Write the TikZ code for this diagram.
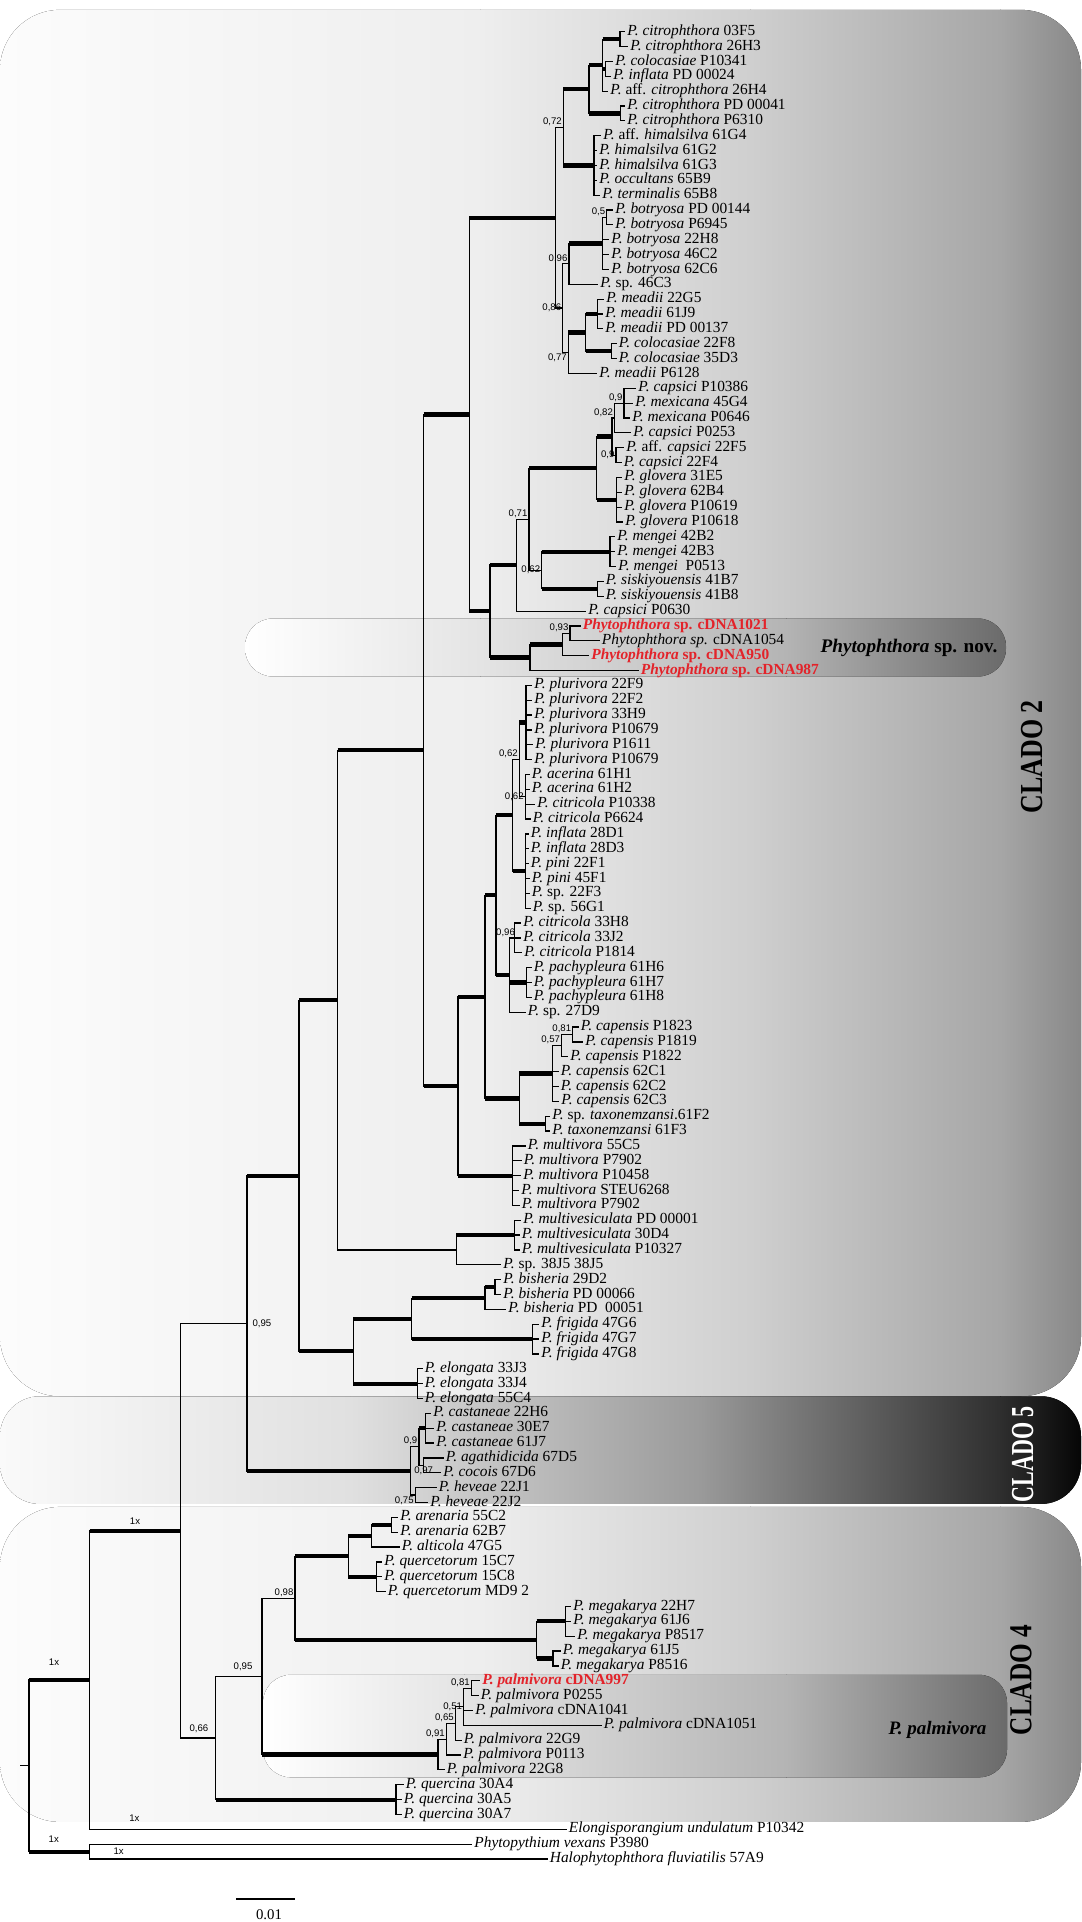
\documentclass[tikz,border=0pt]{standalone}
\usepackage{fontspec}
\setmainfont{Liberation Serif}
\newfontfamily\supfont{Liberation Sans}
\definecolor{cdnared}{HTML}{E3232A}
\definecolor{bgA}{HTML}{FCFCFC}
\definecolor{bgB}{HTML}{EEEEEE}
\definecolor{bgC}{HTML}{CFCFCF}
\definecolor{bgD}{HTML}{A6A6A6}
\definecolor{bgE}{HTML}{888888}
\definecolor{dkA}{HTML}{FAFAFA}
\definecolor{dkB}{HTML}{E0E0E0}
\definecolor{dkC}{HTML}{9A9A9A}
\definecolor{dkD}{HTML}{2E2E2E}
\definecolor{dkE}{HTML}{050505}
\definecolor{bxA}{HTML}{FFFFFF}
\definecolor{bxB}{HTML}{E4E4E4}
\definecolor{bxC}{HTML}{B4B4B4}
\definecolor{bxD}{HTML}{6A6A6A}
\tikzset{
    leaf/.style={anchor=west, inner xsep=1pt, inner ysep=0pt, font=\fontsize{7.7}{8}\selectfont, text height=5.2pt, text depth=1.6pt},
    hit/.style={leaf, text=cdnared, font=\fontsize{7.7}{8}\selectfont\bfseries},
    vbar/.style={line width=0.6pt},
    fat/.style={line width=2.1pt},
    supp/.style={font=\fontsize{4.8}{5}\supfont, inner sep=0.6pt, anchor=south east},
    clado/.style={rotate=90, font=\fontsize{16}{16}\selectfont\bfseries},
    boxlabel/.style={font=\fontsize{9.6}{10}\selectfont\bfseries}
}
\newcommand\thinbr[2]{\draw[vbar] (#1) |- (#2);}
\newcommand\thickbr[2]{\draw[vbar] (#1) |- (#2); \draw[fat] (#1 |- #2) -- (#2);}
\newcommand\lf[3]{\node[leaf] (l#1) at (#2,#1) {#3};}
\newcommand\fan[3]{\foreach \i in {#2,...,#3} {\thinbr{#1}{l\i}}}

\begin{document}
\begin{tikzpicture}[x=0.5pt, y=-7.428pt]
    \useasboundingbox (0,-1.1336) rectangle (1081,128.24);

    \begin{scope}
        \clip[rounded corners=30pt] (0,-0.47) rectangle (1081,92.85);
        \fill[left color=bgA, right color=bgB] (-1,-2) rectangle (481,94);
        \fill[left color=bgB, right color=bgC] (480,-2) rectangle (751,94);
        \fill[left color=bgC, right color=bgD] (750,-2) rectangle (1001,94);
        \fill[left color=bgD, right color=bgE] (1000,-2) rectangle (1082,94);
    \end{scope}
    \begin{scope}
        \clip[rounded corners=20pt] (0,92.85) rectangle (1081,100.1);
        \fill[left color=dkA, right color=dkB] (-1,92) rectangle (351,101);
        \fill[left color=dkB, right color=dkC] (350,92) rectangle (701,101);
        \fill[left color=dkC, right color=dkD] (700,92) rectangle (1001,101);
        \fill[left color=dkD, right color=dkE] (1000,92) rectangle (1082,101);
    \end{scope}
    \begin{scope}
        \clip[rounded corners=30pt] (0,100.3) rectangle (1081,121.5);
        \fill[left color=bgA, right color=bgB] (-1,100) rectangle (481,122);
        \fill[left color=bgB, right color=bgC] (480,100) rectangle (751,122);
        \fill[left color=bgC, right color=bgD] (750,100) rectangle (1001,122);
        \fill[left color=bgD, right color=bgE] (1000,100) rectangle (1082,122);
    \end{scope}
    \begin{scope}
        \clip[rounded corners=14pt] (245,40.5) rectangle (1006,44.4);
        \fill[left color=bxA, right color=bxB] (244,40) rectangle (481,45);
        \fill[left color=bxB, right color=bxC] (480,40) rectangle (787,45);
        \fill[left color=bxC, right color=bxD] (786,40) rectangle (1007,45);
    \end{scope}
    \begin{scope}
        \clip[rounded corners=14pt] (263,111.6) rectangle (1007,118.5);
        \fill[left color=bxA, right color=bxB] (262,111) rectangle (465,119);
        \fill[left color=bxB, right color=bxC] (464,111) rectangle (787,119);
        \fill[left color=bxC, right color=bxD] (786,111) rectangle (1008,119);
    \end{scope}

    \node[boxlabel] (spnov) at (909,42.5) {\textit{Phytophthora} sp. nov.};
    \node[boxlabel, font=\fontsize{9.5}{10}\selectfont\bfseries\itshape] (palmbox) at (937.5,115.3) {P. palmivora};
    \node[clado] (clado2) at (1032,49.8) {\scalebox{0.81}[1]{CLADO 2}};
    \node[clado, text=white] (clado5) at (1022.7,96.75) {\scalebox{0.69}[1]{CLADO 5}};
    \node[clado] (clado4) at (1021,111.95) {\scalebox{0.79}[1]{CLADO 4}};

    \lf{1}{625}{\textit{P. citrophthora} 03F5}
    \lf{2}{628}{\textit{P. citrophthora} 26H3}
    \lf{3}{613}{\textit{P. colocasiae} P10341}
    \lf{4}{611}{\textit{P. inflata} PD 00024}
    \lf{5}{608}{\textit{P.} aff. \textit{citrophthora} 26H4}
    \lf{6}{625}{\textit{P. citrophthora} PD 00041}
    \lf{7}{625}{\textit{P. citrophthora} P6310}
    \lf{8}{601}{\textit{P.} aff. \textit{himalsilva} 61G4}
    \lf{9}{597}{\textit{P. himalsilva} 61G2}
    \lf{10}{597}{\textit{P. himalsilva} 61G3}
    \lf{11}{597}{\textit{P. occultans} 65B9}
    \lf{12}{600}{\textit{P. terminalis} 65B8}
    \lf{13}{613}{\textit{P. botryosa} PD 00144}
    \lf{14}{613}{\textit{P. botryosa} P6945}
    \lf{15}{609}{\textit{P. botryosa} 22H8}
    \lf{16}{609}{\textit{P. botryosa} 46C2}
    \lf{17}{609}{\textit{P. botryosa} 62C6}
    \lf{18}{598}{\textit{P.} sp. 46C3}
    \lf{19}{604}{\textit{P. meadii} 22G5}
    \lf{20}{603}{\textit{P. meadii} 61J9}
    \lf{21}{603}{\textit{P. meadii} PD 00137}
    \lf{22}{616.5}{\textit{P. colocasiae} 22F8}
    \lf{23}{616.5}{\textit{P. colocasiae} 35D3}
    \lf{24}{597}{\textit{P. meadii} P6128}
    \lf{25}{636}{\textit{P. capsici} P10386}
    \lf{26}{633}{\textit{P. mexicana} 45G4}
    \lf{27}{630}{\textit{P. mexicana} P0646}
    \lf{28}{631}{\textit{P. capsici} P0253}
    \lf{29}{624}{\textit{P.} aff. \textit{capsici} 22F5}
    \lf{30}{621.5}{\textit{P. capsici} 22F4}
    \lf{31}{622}{\textit{P. glovera} 31E5}
    \lf{32}{622}{\textit{P. glovera} 62B4}
    \lf{33}{622}{\textit{P. glovera} P10619}
    \lf{34}{623}{\textit{P. glovera} P10618}
    \lf{35}{615}{\textit{P. mengei} 42B2}
    \lf{36}{615}{\textit{P. mengei} 42B3}
    \lf{37}{616}{\textit{P. mengei}\ \ P0513}
    \lf{38}{603.5}{\textit{P. siskiyouensis} 41B7}
    \lf{39}{603.5}{\textit{P. siskiyouensis} 41B8}
    \lf{40}{586}{\textit{P. capsici} P0630}
    \node[hit] (l41) at (580.5,41) {\textit{Phytophthora} sp. cDNA1021};
    \lf{42}{599.5}{\textit{Phytophthora sp.} cDNA1054}
    \node[hit] (l43) at (589,43) {\textit{Phytophthora} sp. cDNA950};
    \node[hit] (l44) at (638.5,44) {\textit{Phytophthora} sp. cDNA987};
    \lf{45}{532}{\textit{P. plurivora} 22F9}
    \lf{46}{532}{\textit{P. plurivora} 22F2}
    \lf{47}{532}{\textit{P. plurivora} 33H9}
    \lf{48}{532}{\textit{P. plurivora} P10679}
    \lf{49}{533}{\textit{P. plurivora} P1611}
    \lf{50}{532}{\textit{P. plurivora} P10679}
    \lf{51}{529.5}{\textit{P. acerina} 61H1}
    \lf{52}{529.5}{\textit{P. acerina} 61H2}
    \lf{53}{535}{\textit{P. citricola} P10338}
    \lf{54}{530.5}{\textit{P. citricola} P6624}
    \lf{55}{528.5}{\textit{P. inflata} 28D1}
    \lf{56}{528.5}{\textit{P. inflata} 28D3}
    \lf{57}{528.5}{\textit{P. pini} 22F1}
    \lf{58}{529.5}{\textit{P. pini} 45F1}
    \lf{59}{529.5}{\textit{P.} sp. 22F3}
    \lf{60}{530.5}{\textit{P.} sp. 56G1}
    \lf{61}{521}{\textit{P. citricola} 33H8}
    \lf{62}{521}{\textit{P. citricola} 33J2}
    \lf{63}{522}{\textit{P. citricola} P1814}
    \lf{64}{531.5}{\textit{P. pachypleura} 61H6}
    \lf{65}{531.5}{\textit{P. pachypleura} 61H7}
    \lf{66}{531.5}{\textit{P. pachypleura} 61H8}
    \lf{67}{525.5}{\textit{P.} sp. 27D9}
    \lf{68}{578.5}{\textit{P. capensis} P1823}
    \lf{69}{583}{\textit{P. capensis} P1819}
    \lf{70}{568}{\textit{P. capensis} P1822}
    \lf{71}{558.5}{\textit{P. capensis} 62C1}
    \lf{72}{558.5}{\textit{P. capensis} 62C2}
    \lf{73}{559}{\textit{P. capensis} 62C3}
    \lf{74}{550}{\textit{P.} sp. \textit{taxonemzansi}.61F2}
    \lf{75}{550}{\textit{P. taxonemzansi} 61F3}
    \lf{76}{525.5}{\textit{P. multivora} 55C5}
    \lf{77}{521.5}{\textit{P. multivora} P7902}
    \lf{78}{521}{\textit{P. multivora} P10458}
    \lf{79}{519}{\textit{P. multivora} STEU6268}
    \lf{80}{519.5}{\textit{P. multivora} P7902}
    \lf{81}{521}{\textit{P. multivesiculata} PD 00001}
    \lf{82}{519.5}{\textit{P. multivesiculata} 30D4}
    \lf{83}{519.5}{\textit{P. multivesiculata} P10327}
    \lf{84}{501}{\textit{P.} sp. 38J5 38J5}
    \lf{85}{501}{\textit{P. bisheria} 29D2}
    \lf{86}{501}{\textit{P. bisheria} PD 00066}
    \lf{87}{506}{\textit{P. bisheria} PD\ \ 00051}
    \lf{88}{539}{\textit{P. frigida} 47G6}
    \lf{89}{539}{\textit{P. frigida} 47G7}
    \lf{90}{539}{\textit{P. frigida} 47G8}
    \lf{91}{422.5}{\textit{P. elongata} 33J3}
    \lf{92}{422.5}{\textit{P. elongata} 33J4}
    \lf{93}{422.5}{\textit{P. elongata} 55C4}
    \lf{94}{431}{\textit{P. castaneae} 22H6}
    \lf{95}{434}{\textit{P. castaneae} 30E7}
    \lf{96}{434}{\textit{P. castaneae} 61J7}
    \lf{97}{443.5}{\textit{P. agathidicida} 67D5}
    \lf{98}{441}{\textit{P. cocois} 67D6}
    \lf{99}{436.5}{\textit{P. heveae} 22J1}
    \lf{100}{428}{\textit{P. heveae} 22J2}
    \lf{101}{398}{\textit{P. arenaria} 55C2}
    \lf{102}{398}{\textit{P. arenaria} 62B7}
    \lf{103}{399.5}{\textit{P. alticola} 47G5}
    \lf{104}{382}{\textit{P. quercetorum} 15C7}
    \lf{105}{382}{\textit{P. quercetorum} 15C8}
    \lf{106}{385.5}{\textit{P. quercetorum} MD9 2}
    \lf{107}{571}{\textit{P. megakarya} 22H7}
    \lf{108}{571}{\textit{P. megakarya} 61J6}
    \lf{109}{575}{\textit{P. megakarya} P8517}
    \lf{110}{560.5}{\textit{P. megakarya} 61J5}
    \lf{111}{558.5}{\textit{P. megakarya} P8516}
    \node[hit] (l112) at (480,112) {\textit{P. palmivora} cDNA997};
    \lf{113}{478.5}{\textit{P. palmivora} P0255}
    \lf{114}{473}{\textit{P. palmivora} cDNA1041}
    \lf{115}{601.5}{\textit{P. palmivora} cDNA1051}
    \lf{116}{461.5}{\textit{P. palmivora} 22G9}
    \lf{117}{461}{\textit{P. palmivora} P0113}
    \lf{118}{444.5}{\textit{P. palmivora} 22G8}
    \lf{119}{403.5}{\textit{P. quercina} 30A4}
    \lf{120}{401.5}{\textit{P. quercina} 30A5}
    \lf{121}{401.5}{\textit{P. quercina} 30A7}
    \lf{122}{566.5}{\textit{Elongisporangium undulatum} P10342}
    \lf{123}{472}{\textit{Phytopythium vexans} P3980}
    \lf{124}{547.5}{\textit{Halophytophthora fluviatilis} 57A9}

    \coordinate (root) at (29,117.72);
    \coordinate (rt) at (20,117.72);
    \coordinate (A) at (89.6,111.95);
    \coordinate (OG) at (89.6,123.5);
    \coordinate (B) at (180.6,101.9);
    \coordinate (C) at (247,87.94);
    \coordinate (D) at (215.8,115.85);
    \coordinate (E) at (299,78.0);
    \coordinate (F) at (337.5,66.19);
    \coordinate (G) at (353.3,89.81);
    \coordinate (H) at (423.5,49.37);
    \coordinate (J) at (469.3,26.77);
    \coordinate (K) at (555.6,13.52);
    \coordinate (g) at (563.4,7.44);
    \coordinate (d) at (589,4.875);
    \coordinate (b) at (602.5,3.25);
    \coordinate (a) at (620,1.5);
    \coordinate (c) at (605.5,3.5);
    \coordinate (e) at (620.8,6.5);
    \coordinate (f) at (594,10);
    \coordinate (h) at (562.7,19.6);
    \coordinate (i96) at (569,16.625);
    \coordinate (bt) at (602.7,15.25);
    \coordinate (bt5) at (606.7,13.5);
    \coordinate (j77) at (568.3,22.6);
    \coordinate (k) at (585.7,21.25);
    \coordinate (md) at (597.3,20);
    \coordinate (cl) at (611.5,22.5);
    \coordinate (L) at (490,40.01);
    \coordinate (M) at (516.7,36.9);
    \coordinate (N) at (529,33.81);
    \coordinate (O) at (596.7,30.375);
    \coordinate (r) at (612,28.25);
    \coordinate (n82) at (614.5,27);
    \coordinate (n09) at (624,26);
    \coordinate (n09b) at (616,29.5);
    \coordinate (gl) at (616.7,32.5);
    \coordinate (s62) at (541.7,37.25);
    \coordinate (mg) at (610,36);
    \coordinate (sk) at (597.3,38.5);
    \coordinate (u) at (530,43.125);
    \coordinate (v) at (562.7,42.25);
    \coordinate (w) at (570,41.5);
    \coordinate (X) at (458,71.98);
    \coordinate (Y) at (485,65.97);
    \coordinate (Z) at (496,59.125);
    \coordinate (Z1) at (512.7,53.75);
    \coordinate (p62) at (519.3,50);
    \coordinate (pl) at (526,47.5);
    \coordinate (ac) at (525.2,52.5);
    \coordinate (ip) at (525.2,57.5);
    \coordinate (Z2) at (509.4,64.5);
    \coordinate (n96) at (514.5,62);
    \coordinate (pc) at (526.5,65);
    \coordinate (CT) at (519.3,72.81);
    \coordinate (cp) at (552.5,71.125);
    \coordinate (c57) at (561.6,69.25);
    \coordinate (c81) at (572.7,68.5);
    \coordinate (tx) at (545.3,74.5);
    \coordinate (mvr) at (512.7,78);
    \coordinate (mv2) at (456.3,83);
    \coordinate (mv) at (514.3,82);
    \coordinate (BF) at (411.7,87.625);
    \coordinate (bn) at (485,86.25);
    \coordinate (bn2) at (495,85.5);
    \coordinate (fr) at (532.5,89);
    \coordinate (el) at (417.5,92);
    \coordinate (c5) at (410.5,97.875);
    \coordinate (c9) at (418.9,96.25);
    \coordinate (cs) at (425.4,95);
    \coordinate (c97) at (423.6,97.5);
    \coordinate (hv) at (415.2,99.5);
    \coordinate (n95) at (262,111.7);
    \coordinate (n98) at (295,106.44);
    \coordinate (AQ) at (348.3,103.625);
    \coordinate (ar) at (371.7,102.25);
    \coordinate (ar2) at (391.7,101.5);
    \coordinate (qc) at (376.7,105);
    \coordinate (mk) at (536.6,109.25);
    \coordinate (mk1) at (565.4,108);
    \coordinate (mk2) at (552.9,110.5);
    \coordinate (pm) at (438,116.97);
    \coordinate (p91) at (446.4,115.94);
    \coordinate (p65) at (455.4,114.875);
    \coordinate (p51) at (463.6,113.75);
    \coordinate (p81) at (471.4,112.5);
    \coordinate (qn) at (396,120);

    \draw[vbar] (rt) -- (root);
    \thickbr{root}{A} \thickbr{root}{OG}
    \thinbr{A}{l122} \thickbr{A}{B}
    \thinbr{OG}{l123} \thinbr{OG}{l124}
    \thinbr{B}{C} \thinbr{B}{D}
    \thickbr{C}{E} \thickbr{C}{c5}
    \thickbr{E}{F} \thickbr{E}{G}
    \thickbr{F}{H} \thinbr{F}{mv2}
    \thickbr{H}{J} \thickbr{H}{X}
    \thickbr{J}{K} \thickbr{J}{L}
    \thinbr{K}{g} \thinbr{K}{h}
    \thickbr{g}{d} \thickbr{g}{f}
    \thickbr{d}{b} \thickbr{d}{e}
    \thickbr{b}{a} \thickbr{b}{c} \thinbr{b}{l5}
    \fan{a}{1}{2} \fan{c}{3}{4} \fan{e}{6}{7} \fan{f}{8}{12}
    \thinbr{h}{i96} \thinbr{h}{j77}
    \thickbr{i96}{bt} \thinbr{i96}{l18}
    \thinbr{bt}{bt5} \fan{bt5}{13}{14} \fan{bt}{15}{17}
    \thickbr{j77}{k} \thinbr{j77}{l24}
    \thickbr{k}{md} \thickbr{k}{cl}
    \fan{md}{19}{21} \fan{cl}{22}{23}
    \thickbr{L}{M} \thickbr{L}{u}
    \thinbr{M}{N} \thinbr{M}{l40}
    \thickbr{N}{O} \thinbr{N}{s62}
    \thickbr{O}{r} \thickbr{O}{gl}
    \thinbr{r}{n82} \thinbr{r}{n09b}
    \thinbr{n82}{n09} \thinbr{n82}{l28}
    \fan{n09}{25}{27} \fan{n09b}{29}{30} \fan{gl}{31}{34}
    \thickbr{s62}{mg} \thickbr{s62}{sk}
    \fan{mg}{35}{37} \fan{sk}{38}{39}
    \thickbr{u}{v} \thinbr{u}{l44}
    \thinbr{v}{w} \thinbr{v}{l43}
    \fan{w}{41}{42}
    \thickbr{X}{Y} \thickbr{X}{mvr}
    \fan{mvr}{76}{80}
    \thickbr{Y}{Z} \thickbr{Y}{CT}
    \thickbr{Z}{Z1} \thickbr{Z}{Z2}
    \thinbr{Z1}{p62} \thickbr{Z1}{ip}
    \thickbr{p62}{pl} \thinbr{p62}{ac}
    \fan{pl}{45}{50} \fan{ac}{51}{54} \fan{ip}{55}{60}
    \thinbr{Z2}{n96} \thickbr{Z2}{pc} \thinbr{Z2}{l67}
    \fan{n96}{61}{63} \fan{pc}{64}{66}
    \thickbr{CT}{cp} \thickbr{CT}{tx}
    \thinbr{cp}{c57} \fan{cp}{71}{73}
    \thinbr{c57}{c81} \thinbr{c57}{l70}
    \fan{c81}{68}{69} \fan{tx}{74}{75}
    \thickbr{mv2}{mv} \thinbr{mv2}{l84}
    \fan{mv}{81}{83}
    \thickbr{G}{BF} \thickbr{G}{el}
    \thickbr{BF}{bn} \thickbr{BF}{fr}
    \thickbr{bn}{bn2} \thinbr{bn}{l87}
    \fan{bn2}{85}{86} \fan{fr}{88}{90} \fan{el}{91}{93}
    \thinbr{c5}{c9} \thinbr{c5}{hv}
    \thickbr{c9}{cs} \thinbr{c9}{c97}
    \fan{cs}{94}{96} \fan{c97}{97}{98} \fan{hv}{99}{100}
    \thinbr{D}{n95} \thickbr{D}{qn}
    \fan{qn}{119}{121}
    \thinbr{n95}{n98} \thickbr{n95}{pm}
    \thickbr{n98}{AQ} \thickbr{n98}{mk}
    \thickbr{AQ}{ar} \thickbr{AQ}{qc}
    \thickbr{ar}{ar2} \thinbr{ar}{l103}
    \fan{ar2}{101}{102} \fan{qc}{104}{106}
    \thickbr{mk}{mk1} \thickbr{mk}{mk2}
    \fan{mk1}{107}{109} \fan{mk2}{110}{111}
    \thinbr{pm}{p91} \thinbr{pm}{l118}
    \thinbr{p91}{p65} \thinbr{p91}{l117}
    \thinbr{p65}{p51} \thinbr{p65}{l116}
    \thinbr{p51}{p81} \thinbr{p51}{l114} \thinbr{p51}{l115}
    \fan{p81}{112}{113}

    \node[supp] (s72) at (g) {0,72};
    \node[supp] (s96a) at (i96) {0,96};
    \node[supp, anchor=east] (s86) at (h) {0,86};
    \node[supp, anchor=north east] (s77) at (j77) {0,77};
    \node[supp] (s5) at (bt5) {0,5};
    \node[supp] (s9a) at (n09) {0,9};
    \node[supp] (s82) at (n82) {0,82};
    \node[supp, anchor=east] (s9b) at (n09b) {0,9};
    \node[supp] (s71) at (N) {0,71};
    \node[supp, anchor=east] (s62a) at (s62) {0,62};
    \node[supp] (s93) at (w) {0,93};
    \node[supp] (s62b) at (p62) {0,62};
    \node[supp, anchor=east] (s62c) at (ac) {0,62};
    \node[supp, xshift=1pt] (s96b) at (n96) {0,96};
    \node[supp] (s81a) at (c81) {0,81};
    \node[supp] (s57) at (c57) {0,57};
    \node[supp, anchor=west, xshift=2pt] (s95a) at (C) {0,95};
    \node[supp] (s9c) at (c9) {0,9};
    \node[supp, anchor=north] (s97) at (c97) {0,97};
    \node[supp, anchor=north east] (s75) at (hv) {0,75};
    \node[supp, xshift=-3pt, yshift=2pt] (s66) at (D) {0,66};
    \node[supp, xshift=-4pt, yshift=2pt] (s95b) at (n95) {0,95};
    \node[supp] (s98) at (n98) {0,98};
    \node[supp] (s81b) at (p81) {0,81};
    \node[supp, anchor=east] (s51) at (p51) {0,51};
    \node[supp] (s65) at (p65) {0,65};
    \node[supp] (s91) at (p91) {0,91};
    \node[supp, anchor=center] (x1) at (54,110.72) {1x};
    \node[supp, anchor=center] (x2) at (135,101.23) {1x};
    \node[supp, anchor=center] (x3) at (134.4,121.26) {1x};
    \node[supp, anchor=center] (x4) at (53.8,122.68) {1x};
    \node[supp, anchor=center] (x5) at (118.6,123.46) {1x};

    \coordinate (sb1) at (236,126.69);
    \coordinate (sb2) at (295,126.69);
    \draw[line width=0.8pt] (sb1) -- (sb2);
    \node[font=\fontsize{7.4}{8}\selectfont] (sbl) at (269,127.77) {0.01};
\end{tikzpicture}
\end{document}
